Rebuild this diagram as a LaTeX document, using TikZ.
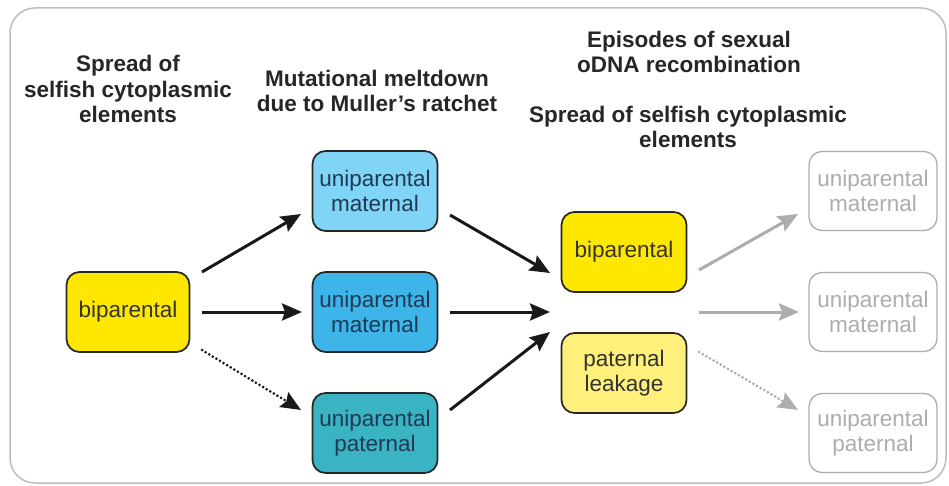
\documentclass[tikz,border=0pt]{standalone}
\usepackage{fontspec}
\setmainfont{Liberation Sans}
\usetikzlibrary{arrows.meta}
\definecolor{yelA}{HTML}{FFE800}
\definecolor{yelB}{HTML}{FFF07C}
\definecolor{bluA}{HTML}{80D4F6}
\definecolor{bluB}{HTML}{3DB5E8}
\definecolor{tealA}{HTML}{3AB3C2}
\definecolor{navy}{HTML}{1E3A55}
\definecolor{framegray}{HTML}{BDBDBD}
\definecolor{ghost}{HTML}{ADADAD}
\tikzset{
  box/.style={draw=black!85, line width=1.7pt, rounded corners=13pt, align=center,
    minimum width=125pt, minimum height=80pt, inner sep=2pt,
    font=\fontsize{22.5}{25}\selectfont},
  ghostbox/.style={box, draw=ghost, text=ghost, line width=1.3pt, minimum width=128pt, minimum height=79pt},
  heading/.style={align=center, inner sep=0pt, font=\fontsize{22.5}{25.5}\selectfont\bfseries, text=black!85},
  arr/.style={line width=3pt, draw=black!90, -{Stealth[length=20pt,width=17pt,inset=3pt]}},
  garr/.style={arr, draw=ghost},
  darr/.style={arr, line cap=round, dash pattern=on 0pt off 4.2pt}
}
\begin{document}
\begin{tikzpicture}[x=1pt,y=-1pt]
\useasboundingbox (0,0) rectangle (949,486);
\fill[white] (0,0) rectangle (949,486);
\draw[framegray, line width=1.5pt, rounded corners=25pt] (10,8) rectangle (946,483);

% headings
\node[heading] (h1) at (128,89) {Spread of\\selfish cytoplasmic\\elements};
\node[heading] (h2) at (377,91) {Mutational meltdown\\due to Muller's ratchet};
\node[heading] (h3) at (689,52) {Episodes of sexual\\oDNA recombination};
\node[heading] (h4) at (688,127) {Spread of selfish cytoplasmic\\elements};

% boxes
\node[box, fill=yelA, text=black!80, minimum width=123pt] (b1) at (128,312) {biparental};
\node[box, fill=bluA, text=navy] (m1) at (375,191) {uniparental\\maternal};
\node[box, fill=bluB, text=navy] (m2) at (375,312) {uniparental\\maternal};
\node[box, fill=tealA, text=navy] (p1) at (375,433) {uniparental\\paternal};
\node[box, fill=yelA, text=black!80] (b2) at (624,252) {biparental};
\node[box, fill=yelB, text=black!80] (pl) at (624,373) {paternal\\leakage};
\node[ghostbox] (g1) at (873,191) {uniparental\\maternal};
\node[ghostbox] (g2) at (873,312) {uniparental\\maternal};
\node[ghostbox] (g3) at (873,433) {uniparental\\paternal};

% arrow end points
\coordinate (a1s) at (202,272); \coordinate (a1e) at (301,214);
\coordinate (a2s) at (202,312); \coordinate (a2e) at (302,312);
\coordinate (a3s) at (202,350); \coordinate (a3e) at (301,410);
\coordinate (c1s) at (450,215); \coordinate (c1e) at (550,273);
\coordinate (c2s) at (450,312); \coordinate (c2e) at (550,312);
\coordinate (c3s) at (450,410); \coordinate (c3e) at (550,332);
\coordinate (d1s) at (699,270); \coordinate (d1e) at (798,214);
\coordinate (d2s) at (699,312); \coordinate (d2e) at (799,312);
\coordinate (d3s) at (699,352); \coordinate (d3e) at (798,410);

\draw[arr] (a1s) -- (a1e);
\draw[arr] (a2s) -- (a2e);
\draw[darr] (a3s) -- (a3e);
\draw[arr] (c1s) -- (c1e);
\draw[arr] (c2s) -- (c2e);
\draw[arr] (c3s) -- (c3e);
\draw[garr] (d1s) -- (d1e);
\draw[garr] (d2s) -- (d2e);
\draw[darr, draw=ghost] (d3s) -- (d3e);
\end{tikzpicture}
\end{document}
